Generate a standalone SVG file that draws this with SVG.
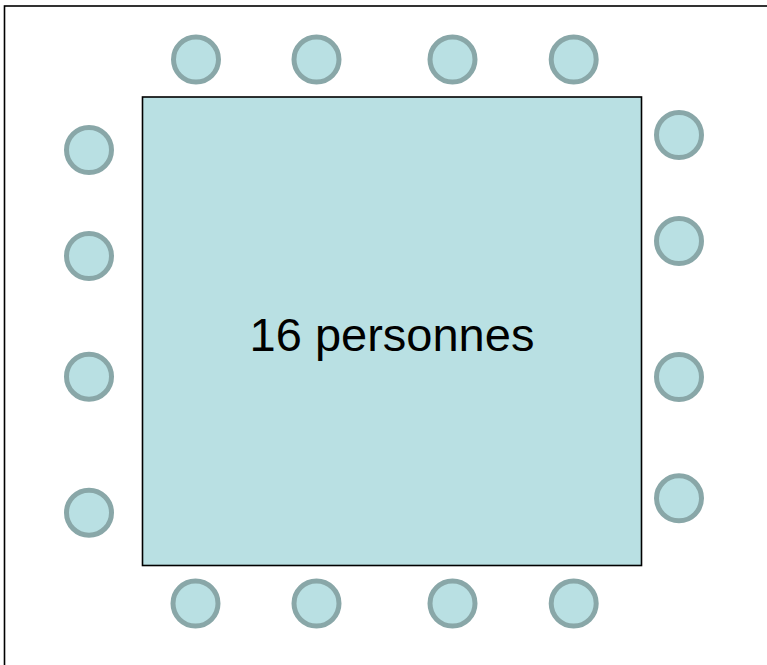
<svg xmlns="http://www.w3.org/2000/svg" width="767" height="665" viewBox="0 0 767 665">
<style>
.seat{fill:#b9e0e3;stroke:#89a7a8;stroke-width:5}
.table{fill:#b9e0e3;stroke:#000;stroke-width:1.6}
.frame{fill:none;stroke:#000;stroke-width:1.6}
.lbl{font-family:"Liberation Sans",Arial,sans-serif;font-size:47px;fill:#000;text-anchor:middle}
</style>
<rect class="frame" x="4.5" y="6" width="800" height="700"/>
<g id="table"><rect class="table" x="142.5" y="97" width="499" height="468.5"/><text class="lbl" x="392" y="351">16 personnes</text></g>
<g id="seats-top">
<circle id="t1" class="seat" cx="196" cy="59.5" r="22.5"/>
<circle id="t2" class="seat" cx="316.5" cy="59.5" r="22.5"/>
<circle id="t3" class="seat" cx="452.5" cy="59.5" r="22.5"/>
<circle id="t4" class="seat" cx="573.7" cy="59.5" r="22.5"/>
</g>
<g id="seats-bottom">
<circle id="b1" class="seat" cx="195.5" cy="603.5" r="22.5"/>
<circle id="b2" class="seat" cx="316.5" cy="603.5" r="22.5"/>
<circle id="b3" class="seat" cx="452.5" cy="603.5" r="22.5"/>
<circle id="b4" class="seat" cx="573.7" cy="603.5" r="22.5"/>
</g>
<g id="seats-left">
<circle id="l1" class="seat" cx="89" cy="150" r="22.5"/>
<circle id="l2" class="seat" cx="89" cy="256" r="22.5"/>
<circle id="l3" class="seat" cx="89" cy="376.7" r="22.5"/>
<circle id="l4" class="seat" cx="89" cy="512.7" r="22.5"/>
</g>
<g id="seats-right">
<circle id="r1" class="seat" cx="679" cy="135" r="22.5"/>
<circle id="r2" class="seat" cx="679" cy="241" r="22.5"/>
<circle id="r3" class="seat" cx="679" cy="377" r="22.5"/>
<circle id="r4" class="seat" cx="679" cy="498.3" r="22.5"/>
</g>
<g id="connectors"/>
</svg>
